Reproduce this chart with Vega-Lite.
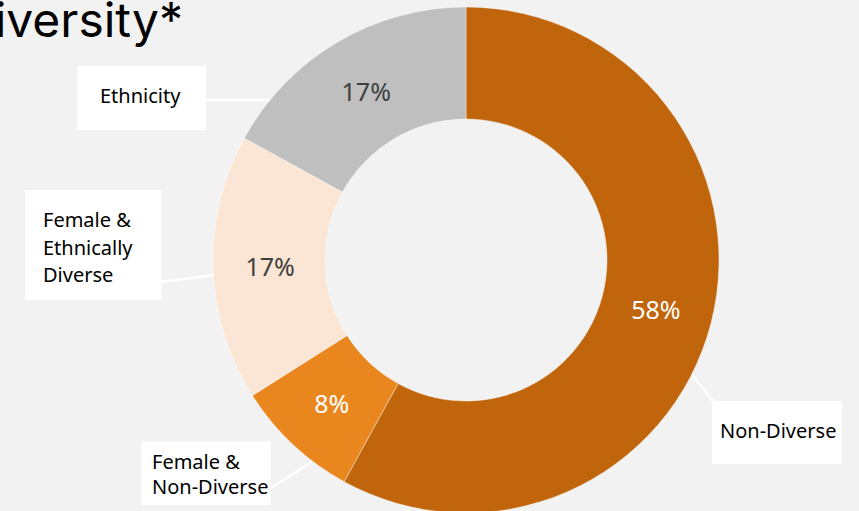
{
  "$schema": "https://vega.github.io/schema/vega-lite/v6.json",
  "width": 786,
  "height": 502,
  "autosize": {"type": "none"},
  "padding": {"left": 73, "top": 9, "right": 0, "bottom": 0},
  "background": "#f2f2f2",
  "config": {"view": {"stroke": null}},
  "datasets": {
    "slices": [
      {"category": "Non-Diverse", "share": 58, "order": 1, "label": "58%"},
      {"category": "Female & Non-Diverse", "share": 8, "order": 2, "label": "8%"},
      {"category": "Female & Ethnically Diverse", "share": 17, "order": 3, "label": "17%"},
      {"category": "Ethnicity", "share": 17, "order": 4, "label": "17%"}
    ],
    "callouts": [
      {"category": "Ethnicity", "text": "Ethnicity", "bx": 77, "bx2": 206, "by": 66, "by2": 130, "tx": 100, "ty": 97, "lx": 206, "ly": 100, "lx2": 270, "ly2": 100},
      {"category": "Female & Ethnically Diverse", "text": "Female &\nEthnically\nDiverse", "bx": 25, "bx2": 161.5, "by": 190, "by2": 300, "tx": 43, "ty": 221, "lx": 161, "ly": 282, "lx2": 214, "ly2": 275},
      {"category": "Female & Non-Diverse", "text": "Female &\nNon-Diverse", "bx": 141.5, "bx2": 271, "by": 441.5, "by2": 505, "tx": 152, "ty": 463, "lx": 271, "ly": 488, "lx2": 312, "ly2": 462},
      {"category": "Non-Diverse", "text": "Non-Diverse", "bx": 712, "bx2": 842, "by": 401, "by2": 464, "tx": 720, "ty": 432, "lx": 693, "ly": 376, "lx2": 713, "ly2": 401}
    ],
    "heading": [{"text": "Diversity*", "x": 183, "y": 37}]
  },
  "layer": [
    {
      "data": {"name": "slices"},
      "mark": {"type": "arc", "innerRadius": 141, "outerRadius": 253, "stroke": "#ffffff", "strokeWidth": 0.4},
      "encoding": {
        "theta": {"field": "share", "type": "quantitative", "stack": true},
        "order": {"field": "order", "type": "quantitative"},
        "color": {
          "field": "category", "type": "nominal", "legend": null,
          "scale": {
            "domain": ["Non-Diverse", "Female & Non-Diverse", "Female & Ethnically Diverse", "Ethnicity"],
            "range": ["#c0650b", "#e9871e", "#fbe5d5", "#bfbfbf"]
          }
        }
      }
    },
    {
      "data": {"name": "slices"},
      "mark": {"type": "text", "radius": 196, "font": "Noto Sans", "fontSize": 25, "align": "center", "baseline": "middle", "dy": 2},
      "encoding": {
        "theta": {"field": "share", "type": "quantitative", "stack": true},
        "order": {"field": "order", "type": "quantitative"},
        "text": {"field": "label"},
        "color": {
          "condition": {"test": "datum.category == 'Non-Diverse' || datum.category == 'Female & Non-Diverse'", "value": "#ffffff"},
          "value": "#404040"
        }
      }
    },
    {
      "data": {"name": "callouts"},
      "mark": {"type": "rule", "color": "#ffffff", "strokeWidth": 2.5},
      "encoding": {
        "x": {"field": "lx", "type": "quantitative", "axis": null, "scale": {"domain": [73, 859], "nice": false, "zero": false}},
        "y": {"field": "ly", "type": "quantitative", "axis": null, "scale": {"domain": [511, 9], "nice": false, "zero": false}},
        "x2": {"field": "lx2"},
        "y2": {"field": "ly2"}
      }
    },
    {
      "data": {"name": "callouts"},
      "mark": {"type": "rect", "color": "#ffffff"},
      "encoding": {
        "x": {"field": "bx", "type": "quantitative", "axis": null, "scale": {"domain": [73, 859], "nice": false, "zero": false}},
        "y": {"field": "by", "type": "quantitative", "axis": null, "scale": {"domain": [511, 9], "nice": false, "zero": false}},
        "x2": {"field": "bx2"},
        "y2": {"field": "by2"}
      }
    },
    {
      "data": {"name": "callouts"},
      "transform": [{"filter": "datum.category != 'Female & Non-Diverse'"}],
      "mark": {"type": "text", "font": "Noto Sans", "fontSize": 20, "align": "left", "baseline": "middle", "lineBreak": "\n", "lineHeight": 27.5, "color": "#000000"},
      "encoding": {
        "x": {"field": "tx", "type": "quantitative", "axis": null, "scale": {"domain": [73, 859], "nice": false, "zero": false}},
        "y": {"field": "ty", "type": "quantitative", "axis": null, "scale": {"domain": [511, 9], "nice": false, "zero": false}},
        "text": {"field": "text"}
      }
    },
    {
      "data": {"name": "callouts"},
      "transform": [{"filter": "datum.category == 'Female & Non-Diverse'"}],
      "mark": {"type": "text", "font": "Noto Sans", "fontSize": 20, "align": "left", "baseline": "middle", "lineBreak": "\n", "lineHeight": 25, "color": "#000000"},
      "encoding": {
        "x": {"field": "tx", "type": "quantitative", "axis": null, "scale": {"domain": [73, 859], "nice": false, "zero": false}},
        "y": {"field": "ty", "type": "quantitative", "axis": null, "scale": {"domain": [511, 9], "nice": false, "zero": false}},
        "text": {"field": "text"}
      }
    },
    {
      "data": {"name": "heading"},
      "mark": {"type": "text", "font": "Inter", "fontSize": 48, "align": "right", "baseline": "alphabetic", "color": "#000000"},
      "encoding": {
        "x": {"field": "x", "type": "quantitative", "axis": null, "scale": {"domain": [73, 859], "nice": false, "zero": false}},
        "y": {"field": "y", "type": "quantitative", "axis": null, "scale": {"domain": [511, 9], "nice": false, "zero": false}},
        "text": {"field": "text"}
      }
    }
  ]
}
